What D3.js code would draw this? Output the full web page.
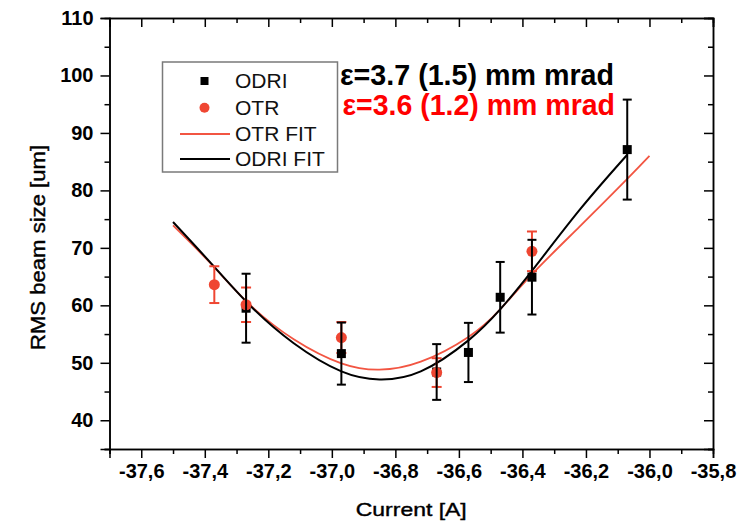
<!DOCTYPE html>
<html>
<head>
<meta charset="utf-8">
<script src="https://cdn.jsdelivr.net/npm/d3@7"></script>
<style>
  body { margin: 0; background: #fff; }
  text { font-family: "Liberation Sans", Arial, sans-serif; }
</style>
</head>
<body>
<div id="chart"></div>
<script>
// measured points (current [A], RMS size [um], error)
const odriX = [-37.27, -36.97, -36.67, -36.57, -36.47, -36.37, -36.07]
const odriY = [59.5, 51.6, 48.4, 51.8, 61.4, 64.9, 87.1]
const odriErr = [6.0, 5.4, 4.85, 5.15, 6.15, 6.5, 8.7]

const otrX = [-37.37, -37.27, -36.97, -36.67, -36.37]
const otrY = [63.6, 60.1, 54.4, 48.3, 69.4]
const otrErr = [3.2, 3.0, 2.7, 2.5, 3.45]

// fit curves
const odriFitX = [-37.5, -37.38, -37.26, -37.12, -36.97, -36.85, -36.72, -36.57, -36.47, -36.37, -36.22, -36.07]
const odriFitY = [74.5, 67.3, 60.1, 53.4, 48.5, 47.1, 48.5, 53.9, 59.3, 66.0, 76.6, 86.2]
const otrFitX = [-37.5, -37.38, -37.26, -37.12, -36.97, -36.85, -36.72, -36.57, -36.47, -36.37, -36.22, -36.07, -36.0]
const otrFitY = [73.9, 67.2, 60.2, 54.1, 49.9, 48.8, 50.2, 54.5, 59.3, 65.4, 73.7, 82.0, 86.0]

const xTickValues = [-37.6, -37.4, -37.2, -37.0, -36.8, -36.6, -36.4, -36.2, -36.0, -35.8]
const xMinorValues = [-37.7, -37.5, -37.3, -37.1, -36.9, -36.7, -36.5, -36.3, -36.1, -35.9]
const yTickValues = [40, 50, 60, 70, 80, 90, 100, 110]
const yMinorValues = [35, 45, 55, 65, 75, 85, 95, 105]

const legendLabels = ["ODRI", "OTR", "OTR FIT", "ODRI FIT"]
const emittanceLabels = ["ε=3.7 (1.5) mm mrad", "ε=3.6 (1.2) mm mrad"]

const width = 756, height = 523
const mLeft = 109.5, mRight = 713, mTop = 18, mBottom = 449
const black = "#000", red = "#ef4632", redLine = "#f25542"

const x = d3.scaleLinear().domain([-37.7, -35.8]).range([mLeft, mRight])
const y = d3.scaleLinear().domain([35, 110]).range([mBottom, mTop])

const svg = d3.select("#chart").append("svg")
  .attr("width", width).attr("height", height)
  .attr("viewBox", [0, 0, width, height])

const fmt = v => d3.format(".1f")(v).replace("−", "-").replace(".", ",")

function styleAxis(g) {
  g.selectAll(".domain").attr("stroke-width", 1.5)
  g.selectAll(".tick line").attr("stroke-width", 1.5)
}

// minor ticks
svg.append("g").attr("transform", `translate(0,${mBottom})`)
  .call(d3.axisBottom(x).tickValues(xMinorValues).tickSize(5).tickFormat(""))
  .call(styleAxis)
svg.append("g").attr("transform", `translate(0,${mTop})`)
  .call(d3.axisBottom(x).tickValues(xMinorValues).tickSize(5).tickFormat(""))
  .call(styleAxis)
svg.append("g").attr("transform", `translate(${mLeft},0)`)
  .call(d3.axisLeft(y).tickValues(yMinorValues).tickSize(5).tickFormat(""))
  .call(styleAxis)
svg.append("g").attr("transform", `translate(${mRight},0)`)
  .call(d3.axisLeft(y).tickValues(yMinorValues).tickSize(5).tickFormat(""))
  .call(styleAxis)

// major ticks
svg.append("g").attr("transform", `translate(0,${mBottom})`)
  .call(d3.axisBottom(x).tickValues(xTickValues).tickSize(9).tickPadding(6).tickFormat(fmt))
  .call(styleAxis)
  .call(g => g.selectAll(".tick text")
    .attr("font-size", 20).attr("font-weight", "bold").attr("fill", "#000")
    .attr("font-family", "'Liberation Sans', Arial, sans-serif"))
svg.append("g").attr("transform", `translate(0,${mTop})`)
  .call(d3.axisBottom(x).tickValues(xTickValues).tickSize(9).tickFormat(""))
  .call(styleAxis)
svg.append("g").attr("transform", `translate(${mLeft},0)`)
  .call(d3.axisLeft(y).tickValues(yTickValues).tickSize(9).tickPadding(7))
  .call(styleAxis)
  .call(g => g.selectAll(".tick text")
    .attr("font-size", 20).attr("font-weight", "bold").attr("fill", "#000")
    .attr("font-family", "'Liberation Sans', Arial, sans-serif"))
svg.append("g").attr("transform", `translate(${mRight},0)`)
  .call(d3.axisLeft(y).tickValues(yTickValues).tickSize(9).tickFormat(""))
  .call(styleAxis)

// axis titles
svg.append("text")
  .attr("x", (mLeft + mRight) / 2).attr("y", 516)
  .attr("text-anchor", "middle").attr("font-size", 19)
  .attr("stroke", "#000").attr("stroke-width", 0.4)
  .attr("textLength", 111).attr("lengthAdjust", "spacingAndGlyphs")
  .text("Current [A]")
svg.append("text")
  .attr("transform", "translate(45,247.5) rotate(-90)")
  .attr("text-anchor", "middle").attr("font-size", 20)
  .attr("stroke", "#000").attr("stroke-width", 0.4)
  .attr("textLength", 205).attr("lengthAdjust", "spacingAndGlyphs")
  .text("RMS beam size [um]")

// fit curves
const line = d3.line().x(d => x(d[0])).y(d => y(d[1])).curve(d3.curveNatural)
svg.append("path")
  .datum(d3.zip(otrFitX, otrFitY))
  .attr("fill", "none").attr("stroke", redLine).attr("stroke-width", 1.8)
  .attr("d", line)
svg.append("path")
  .datum(d3.zip(odriFitX, odriFitY))
  .attr("fill", "none").attr("stroke", black).attr("stroke-width", 2)
  .attr("d", line)

function errorBars(X, Y, E, color, sw, cap) {
  const g = svg.append("g").attr("stroke", color).attr("stroke-width", sw)
  const I = d3.range(X.length)
  g.selectAll(".v").data(I).join("line")
    .attr("x1", i => x(X[i])).attr("x2", i => x(X[i]))
    .attr("y1", i => y(Y[i] - E[i])).attr("y2", i => y(Y[i] + E[i]))
  g.selectAll(".top").data(I).join("line")
    .attr("x1", i => x(X[i]) - cap).attr("x2", i => x(X[i]) + cap)
    .attr("y1", i => y(Y[i] + E[i])).attr("y2", i => y(Y[i] + E[i]))
  g.selectAll(".bot").data(I).join("line")
    .attr("x1", i => x(X[i]) - cap).attr("x2", i => x(X[i]) + cap)
    .attr("y1", i => y(Y[i] - E[i])).attr("y2", i => y(Y[i] - E[i]))
}

errorBars(otrX, otrY, otrErr, red, 2, 5)

svg.append("g").attr("fill", black)
  .selectAll("rect").data(d3.range(odriX.length)).join("rect")
  .attr("x", i => x(odriX[i]) - 4.5).attr("y", i => y(odriY[i]) - 4.5)
  .attr("width", 9).attr("height", 9)

svg.append("g").attr("fill", red)
  .selectAll("circle").data(d3.range(otrX.length)).join("circle")
  .attr("cx", i => x(otrX[i])).attr("cy", i => y(otrY[i])).attr("r", 5.5)

errorBars(odriX, odriY, odriErr, black, 2, 4.5)

// legend
const legend = svg.append("g")
legend.append("rect")
  .attr("x", 162.5).attr("y", 62).attr("width", 175).attr("height", 110)
  .attr("fill", "#fff").attr("stroke", "#7a7a7a").attr("stroke-width", 1.5)
legend.append("rect").attr("x", 200.5).attr("y", 77).attr("width", 8).attr("height", 8).attr("fill", black)
legend.append("circle").attr("cx", 204.5).attr("cy", 107.7).attr("r", 5).attr("fill", red)
legend.append("line").attr("x1", 180).attr("x2", 230).attr("y1", 134).attr("y2", 134)
  .attr("stroke", redLine).attr("stroke-width", 1.8)
legend.append("line").attr("x1", 180).attr("x2", 230).attr("y1", 159).attr("y2", 159)
  .attr("stroke", black).attr("stroke-width", 2)
legend.selectAll(".lbl").data(legendLabels).join("text")
  .attr("x", 235).attr("y", (d, i) => [88, 115, 140.5, 166][i])
  .attr("font-size", 21).attr("fill", "#111")
  .text(d => d)

// emittance annotations
svg.selectAll(".emit").data(emittanceLabels).join("text")
  .attr("x", (d, i) => [340, 342.5][i]).attr("y", (d, i) => [85, 115][i])
  .attr("font-family", "Lato, 'Open Sans', sans-serif")
  .attr("font-weight", "bold").attr("font-size", 29)
  .attr("fill", (d, i) => i ? "#ff0000" : "#000")
  .attr("textLength", (d, i) => [274, 272.5][i]).attr("lengthAdjust", "spacingAndGlyphs")
  .text(d => d)
</script>
</body>
</html>
